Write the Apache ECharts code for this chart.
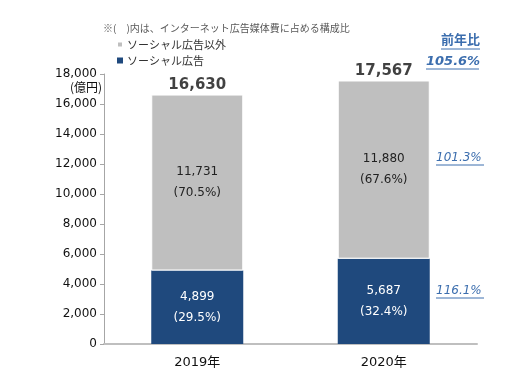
<!DOCTYPE html>
<html><head><meta charset="utf-8">
<script src="https://cdn.jsdelivr.net/npm/echarts@6/dist/echarts.min.js"></script>
<style>html,body{margin:0;padding:0;background:#fff}#c{width:529px;height:381px}</style>
</head><body><div id="c"></div>
<script>
const categories = ['2019年', '2020年'];
const socialValues = [4899, 5687];
const socialShares = ['29.5%', '32.4%'];
const otherValues = [11731, 11880];
const otherShares = ['70.5%', '67.6%'];
const yoyTotal = '105.6%';
const yoyOther = '101.3%';
const yoySocial = '116.1%';
const totals = categories.map((c, i) => socialValues[i] + otherValues[i]);
const fmt = v => v.toLocaleString('en-US');

const chart = echarts.init(document.getElementById('c'));
const jp = '"Noto Sans CJK JP", sans-serif';
const num = '"DejaVu Sans", Verdana, sans-serif';
const mixed = '"DejaVu Sans", "Noto Sans CJK JP", sans-serif';
const blueText = '#3C6EAE';

function uText(x, y, text, opts) {
  return [
    {type: 'text', left: x, top: y, style: {text: text, font: opts.font, fill: opts.fill}},
    {type: 'line', shape: {x1: x, y1: y + opts.h, x2: x + opts.w, y2: y + opts.h}, style: {stroke: opts.fill, lineWidth: 1}}
  ];
}

chart.setOption({
  animation: false,
  grid: {left: 104, right: 52, top: 74, bottom: 37},
  legend: {
    orient: 'vertical', left: 111, top: 34, itemWidth: 6, itemHeight: 6, itemGap: 5,
    icon: 'rect', textStyle: {fontFamily: jp, fontSize: 11, color: '#333', padding: [0, 0, 0, -1]},
    data: ['ソーシャル広告以外', 'ソーシャル広告']
  },
  xAxis: {
    type: 'category', data: categories,
    axisLine: {lineStyle: {color: '#BFBFBF', width: 2}},
    axisTick: {show: false},
    axisLabel: {fontFamily: mixed, fontSize: 13, color: '#111', margin: 12}
  },
  yAxis: {
    type: 'value', min: 0, max: 18000, interval: 2000,
    axisLine: {show: true, lineStyle: {color: '#A6A6A6'}},
    axisTick: {show: true, inside: false, length: 4, lineStyle: {color: '#A6A6A6'}},
    splitLine: {show: false},
    axisLabel: {fontFamily: num, fontSize: 12, color: '#111', margin: 7, formatter: v => fmt(v)}
  },
  series: [
    {
      name: 'ソーシャル広告', type: 'bar', stack: 's', barWidth: 92,
      data: socialValues,
      itemStyle: {color: '#1F497D'},
      label: {show: true, position: 'inside', color: '#fff', fontFamily: num, fontSize: 12, lineHeight: 21,
        formatter: p => fmt(p.value) + '\n(' + socialShares[p.dataIndex] + ')'}
    },
    {
      name: 'ソーシャル広告以外', type: 'bar', stack: 's', barWidth: 92,
      data: otherValues,
      itemStyle: {color: '#BFBFBF', borderColor: '#fff', borderWidth: 1},
      label: {show: true, position: 'inside', color: '#222', fontFamily: num, fontSize: 12, lineHeight: 21,
        formatter: p => fmt(p.value) + '\n(' + otherShares[p.dataIndex] + ')'}
    },
    {
      name: 'total', type: 'scatter', data: totals, symbolSize: 0, silent: true,
      label: {show: true, position: 'top', distance: 2, color: '#111', fontFamily: num, fontSize: 15, fontWeight: 'bold',
        formatter: p => fmt(p.value)}
    }
  ],
  graphic: [
    {type: 'text', left: 103, top: 23, style: {text: '※(　)内は、インターネット広告媒体費に占める構成比', font: '10px ' + jp, fill: '#595959'}},
    {type: 'text', left: 70, top: 81, style: {text: '(億円)', font: '12px ' + jp, fill: '#111'}},
    ...uText(441, 33, '前年比', {font: 'bold 13px ' + jp, fill: blueText, w: 39, h: 16}),
    ...uText(426, 55, yoyTotal, {font: 'italic bold 13px ' + num, fill: blueText, w: 53, h: 14}),
    ...uText(436, 152, yoyOther, {font: 'italic 12px ' + num, fill: blueText, w: 48, h: 13}),
    ...uText(436, 285, yoySocial, {font: 'italic 12px ' + num, fill: blueText, w: 48, h: 13})
  ]
});
</script>
</body></html>
